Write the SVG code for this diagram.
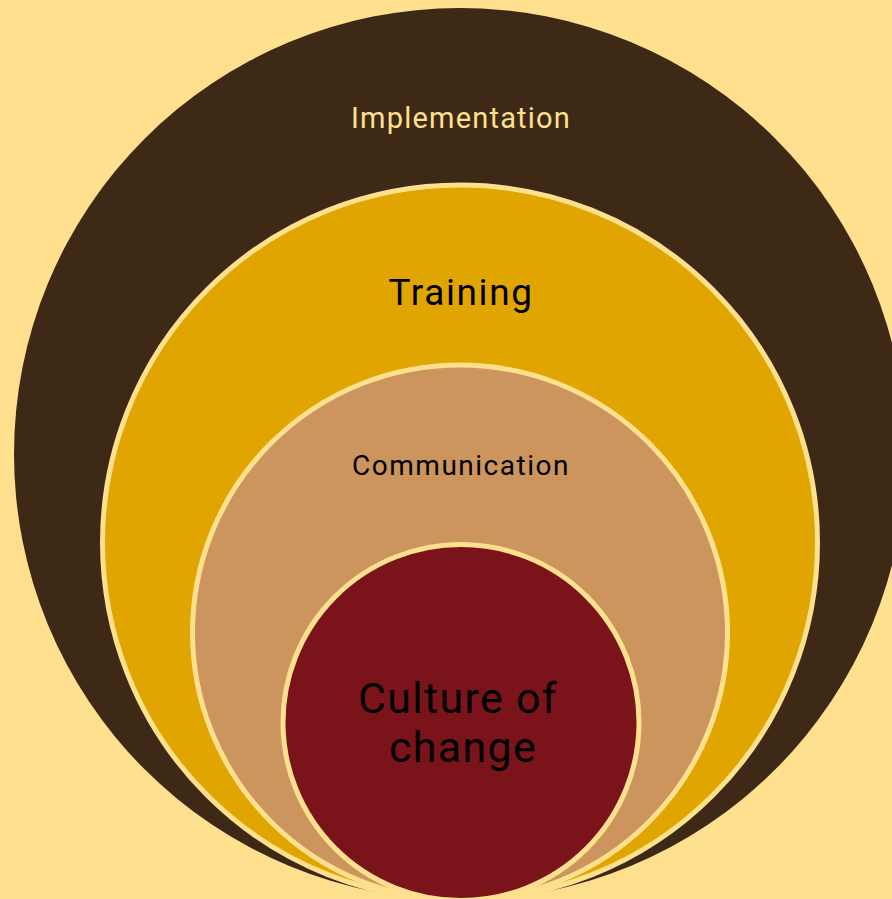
<svg xmlns="http://www.w3.org/2000/svg" width="892" height="899" viewBox="0 0 892 899">
  <style>
    .ring { stroke: #FFE08F; stroke-width: 5; }
    .label { font-family: Roboto, "Liberation Sans", sans-serif; font-weight: 400; text-anchor: middle; }
  </style>
  <!-- background -->
  <rect x="0" y="0" width="892" height="899" fill="#FFE08F"/>

  <!-- nested layers, all touching the same bottom point -->
  <g id="implementation">
    <circle cx="460" cy="454" r="446" fill="#3D2916"/>
    <text class="label" x="461" y="128" font-size="29" letter-spacing="1.2" fill="#FFE08F">Implementation</text>
  </g>

  <g id="training">
    <circle class="ring" cx="460" cy="542.5" r="357.5" fill="#E0A500"/>
    <text class="label" x="461" y="305" font-size="37" letter-spacing="1.6" fill="#000">Training</text>
  </g>

  <g id="communication">
    <circle class="ring" cx="460" cy="632.5" r="267.5" fill="#CD955E"/>
    <text class="label" x="461" y="475" font-size="28" letter-spacing="1.5" fill="#000">Communication</text>
  </g>

  <g id="culture-of-change">
    <circle class="ring" cx="461" cy="722.5" r="178" fill="#7A141A"/>
    <text class="label" font-size="43" letter-spacing="1.3" fill="#000">
      <tspan x="464" y="713">Culture of</tspan>
      <tspan x="463" y="762">change</tspan>
    </text>
  </g>
</svg>
